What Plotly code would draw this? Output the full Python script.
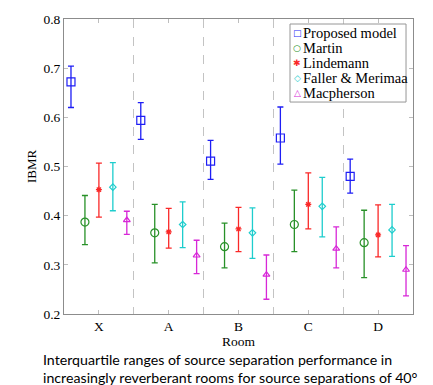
import plotly.graph_objects as go

rooms = ["X", "A", "B", "C", "D"]
series_names = ["Proposed model", "Martin", "Lindemann", "Faller &amp; Merimaa", "Macpherson"]

# medians, upper quartiles, lower quartiles (IBMR)
proposed_med = [0.672, 0.594, 0.511, 0.558, 0.480]
proposed_hi = [0.704, 0.630, 0.553, 0.621, 0.515]
proposed_lo = [0.620, 0.555, 0.474, 0.505, 0.446]

martin_med = [0.387, 0.365, 0.337, 0.382, 0.345]
martin_hi = [0.441, 0.423, 0.385, 0.452, 0.411]
martin_lo = [0.341, 0.304, 0.294, 0.327, 0.274]

lindemann_med = [0.453, 0.367, 0.373, 0.423, 0.361]
lindemann_hi = [0.507, 0.415, 0.417, 0.487, 0.422]
lindemann_lo = [0.397, 0.334, 0.327, 0.373, 0.316]

faller_med = [0.458, 0.382, 0.365, 0.419, 0.371]
faller_hi = [0.508, 0.428, 0.416, 0.478, 0.423]
faller_lo = [0.410, 0.335, 0.313, 0.357, 0.317]

macpherson_med = [0.391, 0.319, 0.280, 0.333, 0.290]
macpherson_hi = [0.409, 0.350, 0.320, 0.377, 0.339]
macpherson_lo = [0.362, 0.282, 0.230, 0.294, 0.237]

meds = [proposed_med, martin_med, lindemann_med, faller_med, macpherson_med]
his = [proposed_hi, martin_hi, lindemann_hi, faller_hi, macpherson_hi]
los = [proposed_lo, martin_lo, lindemann_lo, faller_lo, macpherson_lo]

colors = ["rgb(30,30,245)", "rgb(40,145,40)", "rgb(250,40,40)", "rgb(30,205,205)", "rgb(215,40,215)"]
symbols = ["square-open", "circle-open", "asterisk-open", "diamond-open", "triangle-up-open"]
legend_glyphs = ["\u25a1", "\u25cb", "\u2731", "\u25c7", "\u25b3"]
sizes = [8, 8, 5, 5, 6]
offsets = [-0.4, -0.2, 0.0, 0.2, 0.4]

serif = "Liberation Serif, serif"

fig = go.Figure()
base = list(range(1, len(rooms) + 1))
for name, med, hi, lo, c, s, sz, off in zip(series_names, meds, his, los, colors, symbols, sizes, offsets):
    fig.add_trace(go.Scatter(
        x=[b + off for b in base],
        y=med,
        mode="markers",
        name=name,
        showlegend=False,
        marker=dict(symbol=s, size=sz, color=c, line=dict(color=c, width=1.2)),
        error_y=dict(type="data", symmetric=False,
                     array=[h - m for h, m in zip(hi, med)],
                     arrayminus=[m - l for m, l in zip(med, lo)],
                     color=c, thickness=1.3, width=3),
    ))

axis_line = "rgb(140,140,140)"
fig.update_layout(
    width=433, height=385,
    margin=dict(l=64, r=20, t=12, b=71),
    plot_bgcolor="white", paper_bgcolor="white",
    font=dict(family=serif, size=13, color="black"),
    showlegend=False,
    xaxis=dict(range=[0.5, 5.5], tickvals=base, ticktext=rooms,
               showgrid=False, zeroline=False,
               showline=True, linecolor=axis_line, linewidth=1, mirror="ticks",
               ticks="inside", ticklen=4, tickcolor="rgb(190,190,190)",
               tickfont=dict(family=serif, size=13.5),
               title=dict(text="Room", font=dict(family=serif, size=13.5), standoff=2),
               minor=dict(tickvals=[1.5, 2.5, 3.5, 4.5], showgrid=True, griddash="dash",
                          gridcolor="rgb(195,195,195)", gridwidth=1, ticks="")),
    yaxis=dict(range=[0.2, 0.8], dtick=0.1, tickformat=".1f",
               showgrid=False, zeroline=False,
               showline=True, linecolor=axis_line, linewidth=1, mirror="ticks",
               ticks="inside", ticklen=4, tickcolor="rgb(190,190,190)",
               tickfont=dict(family=serif, size=13.5),
               title=dict(text="IBMR", font=dict(family=serif, size=13), standoff=3)),
)

# legend box (drawn as a framed block of text entries)
fig.add_shape(type="rect", xref="paper", yref="paper", x0=0.6476, x1=0.980, y0=0.7185, y1=0.983,
              line=dict(color="rgb(150,150,150)", width=1), fillcolor="white", layer="above")
legend_y = [0.9536, 0.9007, 0.851, 0.8013, 0.7483]
for name, glyph, c, ly in zip(series_names, legend_glyphs, colors, legend_y):
    fig.add_annotation(xref="paper", yref="paper", x=0.668, y=ly, xanchor="center", yanchor="middle",
                       text=glyph, showarrow=False,
                       font=dict(family="DejaVu Sans", size=9, color=c))
    fig.add_annotation(xref="paper", yref="paper", x=0.6785, y=ly, xanchor="left", yanchor="middle",
                       text=name, showarrow=False,
                       font=dict(family=serif, size=14.5, color="black"))

fig.add_annotation(
    xref="paper", yref="paper", x=-0.066, y=-0.117, xanchor="left", yanchor="top",
    text="Interquartile ranges of source separation performance in<br>increasingly reverberant rooms for source separations of 40°",
    showarrow=False, align="left",
    font=dict(family="Lato", size=14.2, color="black"),
)

fig.write_html("out.html", config={"displayModeBar": False},
               post_script="document.body.style.margin='0px';")
